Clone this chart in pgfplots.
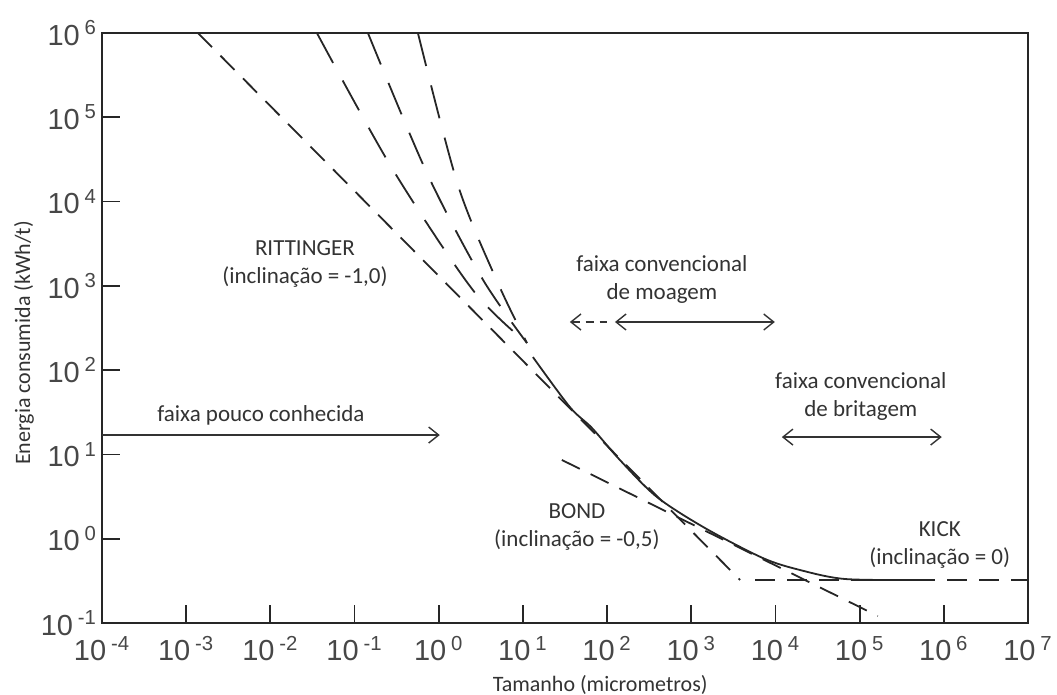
\documentclass[border=0pt]{standalone}
\usepackage{fontspec}
\setmainfont{Carlito}
\newfontfamily\tickfont{Liberation Sans}
\usepackage{pgfplots}
\pgfplotsset{compat=1.18}
\usetikzlibrary{arrows.meta}

\newcommand{\tl}[1]{{\tickfont 10\,\textsuperscript{#1}}}
\newcommand{\annot}{\fontsize{11.5}{14}\selectfont}

\pgfplotsset{
  longdash/.style={black!85, line width=0.9pt, dash pattern=on 17pt off 10pt},
  meddash/.style={black!85, line width=0.9pt, dash pattern=on 10pt off 6pt},
  rng/.style={black!80, line width=0.7pt},
}

\begin{document}
\begin{tikzpicture}
\useasboundingbox (0,0) rectangle (528.5pt,347.5pt);
\begin{axis}[
    at={(51pt,36pt)}, anchor=south west,
    scale only axis, width=463pt, height=295pt,
    xmode=log, ymode=log,
    xmin=1e-4, xmax=1e7, ymin=1e-1, ymax=1e6,
    xtick={1e-4,1e-3,1e-2,1e-1,1,1e1,1e2,1e3,1e4,1e5,1e6,1e7},
    xticklabels={\tl{-4},\tl{-3},\tl{-2},\tl{-1},\tl{0},\tl{1},\tl{2},\tl{3},\tl{4},\tl{5},\tl{6},\tl{7}},
    ytick={1e-1,1,1e1,1e2,1e3,1e4,1e5,1e6},
    yticklabels={\tl{-1},\tl{0},\tl{1},\tl{2},\tl{3},\tl{4},\tl{5},\tl{6}},
    xminorticks=false, yminorticks=false,
    tick pos=left, tick align=inside,
    major tick length=9pt,
    tick style={line width=0.9pt, black!85},
    axis line style={line width=1pt, black!85},
    ticklabel style={font=\fontsize{14.5}{14.5}\selectfont, text=black!72},
    xticklabel style={yshift=-3pt},
    yticklabel style={xshift=1pt},
    label style={font=\fontsize{11}{13}\selectfont, text=black!80},
    xlabel={Tamanho (micrometros)},
    ylabel={Energia consumida (kWh/t)},
    xlabel style={at={(axis description cs:0.538,-0.105)}, anchor=center},
    ylabel style={at={(axis description cs:-0.0842,0.4746)}, anchor=center},
]
% Rittinger (inclinacao -1)
\addplot[meddash] coordinates {(1.380e-3,1e6) (3802,0.3236)};
% Bond (inclinacao -0,5)
\addplot[meddash] coordinates {(29.04,8.59) (1.644e5,0.1211)};
% Kick (inclinacao 0)
\addplot[meddash] coordinates {(5754,0.3236) (1e7,0.3236)};
% linhas mais inclinadas
\addplot[longdash, smooth, tension=0.5] coordinates {
  (0.03573,1e6) (0.278,2.495e4) (2.547,891) (11.17,209.4)};
\addplot[longdash, smooth, tension=0.5] coordinates {
  (0.1442,1e6) (0.7244,2.178e4) (3.258,1239) (11.17,209.4)};
\addplot[longdash, smooth, tension=0.5] coordinates {
  (0.5662,1e6) (1.690,1.570e4) (5.047,1079) (11.17,209.4)};
% curva continua
\addplot[black!85, line width=0.9pt, smooth] coordinates {
  (13.15,142.9) (36.1,36.5) (66.1,20.6) (141.9,8.59) (390,3.13)
  (1452,1.34) (7079,0.590) (19500,0.4256) (66680,0.3327) (4.775e5,0.3236)};
% faixas
\addplot[rng, -{Straight Barb[length=5pt,width=8pt]}] coordinates {(1e-4,16.98) (1.03,16.98)};
\addplot[rng, {Straight Barb[length=5pt,width=8pt]}-, dash pattern=on 4pt off 3pt] coordinates {(36.1,372.4) (99.5,372.4)};
\addplot[rng, {Straight Barb[length=5pt,width=8pt]}-{Straight Barb[length=5pt,width=8pt]}] coordinates {(124,372.4) (9840,372.4)};
\addplot[rng, {Straight Barb[length=5pt,width=8pt]}-{Straight Barb[length=5pt,width=8pt]}] coordinates {(11910,16.07) (9.46e5,16.07)};
% textos
\node[align=center, font=\annot, text=black!80] at (axis cs:0.02576,1816) {RITTINGER\\(inclinação = -1,0)};
\node[align=center, font=\annot, text=black!80] at (axis cs:448,1189) {faixa convencional\\de moagem};
\node[align=center, font=\annot, text=black!80] at (axis cs:1.033e5,49.3) {faixa convencional\\de britagem};
\node[font=\annot, text=black!80] at (axis cs:7.73e-3,29.3) {faixa pouco conhecida};
\node[align=center, font=\annot, text=black!80] at (axis cs:43.8,1.396) {BOND\\(inclinação = -0,5)};
\node[align=center, font=\annot, text=black!80] at (axis cs:8.95e5,0.841) {KICK\\(inclinação = 0)};
\end{axis}
\end{tikzpicture}
\end{document}
